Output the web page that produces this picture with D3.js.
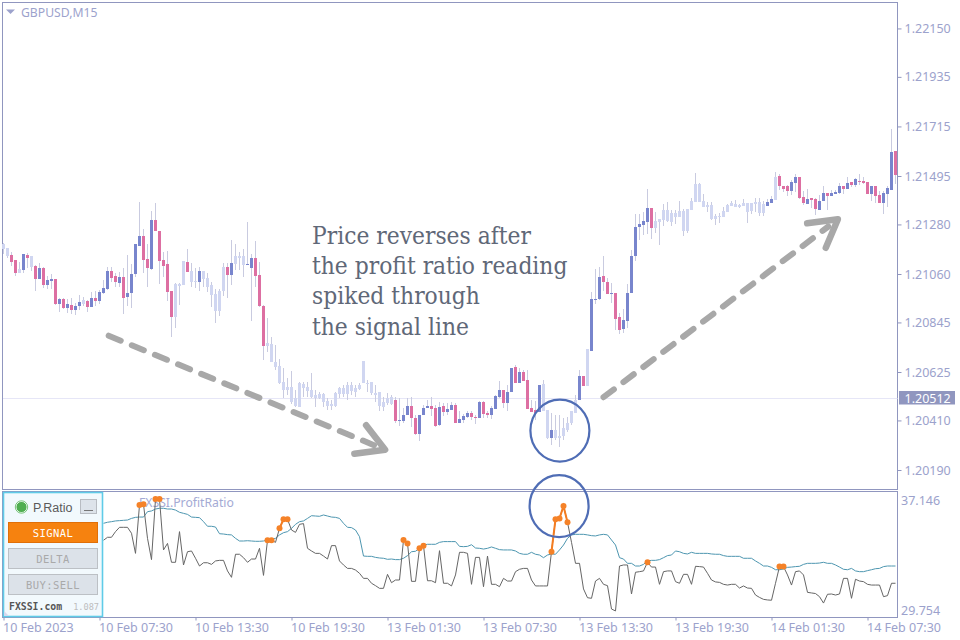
<!DOCTYPE html>
<html>
<head>
<meta charset="utf-8">
<script src="https://d3js.org/d3.v7.min.js"></script>
<style>
  html, body { margin: 0; background: #fff; }
  svg { display: block; }
  text { font-family: "Noto Sans", sans-serif; }
  .axis text { font-size: 12.5px; fill: #9ca2cc; font-family: "Noto Sans", sans-serif; }
  .axis line { stroke: #9096bf; }
  .axis .domain { display: none; }
</style>
</head>
<body>
<div class="chart"></div>
<script>
// GBPUSD M15 prices, in points above 1.20000, one entry per candle
const openPts = [
  1173,1140,1145,1122,1065,1078,1145,1091,1096,1038,
  1087,1011,1029,1038,927,949,909,923,900,918,
  927,940,914,954,940,976,994,1074,1051,1020,
  1047,958,976,1060,1185,1229,1127,1082,1300,1251,
  1122,1105,985,869,1007,1011,1114,1025,1025,1025,
  1038,1003,967,896,896,985,1091,1056,1105,1131,
  1100,1100,1087,1131,1056,918,741,670,647,576,
  545,545,492,474,471,554,542,515,511,511,
  493,474,474,474,526,526,527,541,538,548,
  575,572,530,523,474,471,486,483,501,407,
  407,434,474,421,350,434,465,474,465,390,
  474,447,456,478,398,412,425,443,425,421,
  492,443,434,461,514,545,487,536,647,576,
  625,589,465,456,447,452,332,332,332,332,
  341,367,398,443,501,607,563,718,945,949,
  1051,1025,971,976,869,816,852,976,1140,1269,
  1278,1291,1353,1264,1291,1300,1296,1291,1313,1313,
  1251,1251,1344,1380,1380,1358,1358,1304,1304,1313,
  1313,1335,1362,1358,1358,1362,1335,1340,1371,1331,
  1331,1362,1375,1389,1495,1451,1451,1429,1464,1491,
  1402,1371,1398,1393,1344,1384,1420,1406,1415,1420,
  1451,1438,1469,1455,1473,1473,1469,1415,1451,1411,
  1375,1415,1433,1606
];
const closePts = [
  1193,1176,1114,1065,1082,1149,1131,1140,1038,1087,
  1011,1034,1038,927,949,909,927,900,918,936,
  945,914,954,940,980,998,1074,1042,1025,1047,
  954,976,1060,1193,1229,1122,1087,1300,1251,1118,
  1096,980,869,1016,1016,1118,1069,1074,1029,1074,
  1074,1042,1011,971,985,1091,1056,1109,1140,1140,
  1140,1105,1131,1051,918,741,754,749,670,652,
  581,558,558,508,575,572,560,545,523,526,
  526,496,481,533,555,555,567,567,555,567,
  674,578,582,533,538,493,508,512,409,412,
  434,474,421,350,434,465,474,461,385,470,
  447,461,478,398,416,430,443,425,421,492,
  438,434,465,518,545,487,536,643,576,625,
  585,461,447,443,567,572,456,367,367,341,
  376,398,452,501,607,563,727,949,949,1047,
  1025,971,976,860,812,856,976,1140,1269,1282,
  1296,1353,1264,1296,1304,1344,1344,1331,1331,1340,
  1340,1349,1384,1460,1460,1384,1367,1367,1318,1318,
  1340,1367,1375,1371,1367,1375,1375,1375,1380,1380,
  1371,1380,1393,1491,1451,1438,1429,1469,1491,1398,
  1375,1393,1389,1349,1384,1420,1406,1420,1424,1451,
  1438,1464,1455,1482,1469,1464,1415,1451,1406,1375,
  1420,1442,1602,1500
];
const highPts = [
  1199,1176,1158,1122,1114,1149,1153,1140,1100,1109,
  1091,1051,1060,1038,954,954,949,954,931,967,
  958,945,980,985,989,1034,1091,1091,1065,1069,
  1087,1145,1105,1193,1380,1260,1193,1340,1375,1251,
  1158,1162,985,1020,1020,1118,1171,1109,1087,1091,
  1074,1065,1025,994,994,1109,1109,1211,1193,1158,
  1171,1291,1149,1207,1114,923,865,781,745,683,
  643,598,630,545,579,582,582,622,545,538,
  533,508,501,537,560,567,582,582,567,578,
  674,589,582,567,538,515,530,523,515,508,
  464,508,515,434,434,478,501,515,478,493,
  486,486,493,486,453,438,453,453,434,496,
  496,453,474,523,585,545,567,643,656,643,
  634,634,501,496,567,589,456,441,434,434,
  419,426,452,523,634,607,727,980,1082,1091,
  1140,1042,1020,976,887,905,1016,1167,1327,1327,
  1335,1438,1353,1335,1304,1371,1380,1344,1344,1384,
  1349,1349,1398,1509,1464,1415,1380,1380,1327,1331,
  1358,1371,1384,1389,1371,1393,1375,1375,1398,1398,
  1384,1393,1406,1513,1504,1451,1455,1478,1504,1491,
  1429,1438,1398,1398,1411,1451,1420,1433,1433,1464,
  1451,1491,1469,1486,1504,1491,1469,1451,1451,1429,
  1429,1451,1704,1606
];
const lowPts = [
  1149,1133,1096,1051,1065,1065,1087,1074,985,1038,
  998,994,994,923,892,905,887,883,878,900,
  918,892,914,918,927,971,989,1025,1003,1003,
  883,918,909,1047,1185,1065,1003,1078,1251,1016,
  1047,940,781,821,923,1011,1069,1003,998,985,
  1003,980,914,843,874,963,954,1011,1078,1078,
  1047,1100,852,1003,914,678,714,670,634,572,
  510,523,483,471,471,515,515,508,471,504,
  471,456,456,471,508,515,501,523,515,545,
  575,538,523,493,453,453,478,478,397,387,
  397,434,382,345,319,434,465,430,382,385,
  430,434,456,398,397,397,419,412,394,421,
  421,419,415,461,508,464,453,536,576,576,
  585,461,447,412,447,452,329,301,323,293,
  323,360,390,443,501,563,563,718,927,945,
  985,971,931,812,794,798,820,976,1118,1211,
  1233,1238,1216,1242,1189,1273,1291,1273,1282,1313,
  1229,1242,1344,1380,1380,1358,1335,1300,1278,1287,
  1313,1335,1362,1358,1353,1362,1287,1327,1335,1318,
  1318,1362,1375,1389,1433,1424,1406,1411,1424,1393,
  1367,1371,1353,1322,1344,1384,1344,1406,1415,1415,
  1415,1438,1447,1447,1455,1460,1415,1384,1375,1375,
  1327,1358,1433,1460
];
// candles that are washed out in the screenshot, as [first, last] runs
const fadedRuns = [[0,1],[4,4],[7,7],[20,20],[43,45],[47,48],[50,55],[58,60],[66,97],
  [135,136],[138,143],[146,146],[163,190],[193,193]];

const priceTicks = [190,410,625,845,1060,1280,1495,1715,1935,2150];
const lastPrice = 512;
const timeLabels = ["10 Feb 2023","10 Feb 07:30","10 Feb 13:30","10 Feb 19:30","13 Feb 01:30",
  "13 Feb 07:30","13 Feb 13:30","13 Feb 19:30","14 Feb 01:30","14 Feb 07:30"];

// P.Ratio indicator, both lines start at candle 25 (the widget hides the rest)
const ratioStart = 25;
const ratioValues = [
  34.44,34.64,34.64,35.02,35.31,35.31,35.31,34.91,33.56,36.81,36.86,34.57,33.14,37.21,37.21,
  33.79,34.23,32.96,32.96,35.02,32.78,33.67,33.72,33.23,32.71,32.93,32.93,32.82,33.05,33.09,
  33.09,32.38,31.95,33.50,33.50,33.27,32.96,33.18,33.18,33.90,32.08,34.44,34.44,34.30,35.24,
  35.85,35.85,35.13,34.97,35.51,35.56,33.90,33.72,33.56,33.56,
  33.38,33.18,34.08,34.08,33.05,32.78,32.55,32.55,32.44,32.22,31.88,31.88,31.55,31.39,31.21,
  31.21,32.15,31.59,31.77,31.77,34.46,34.23,31.68,31.68,33.90,34.08,31.72,31.72,31.59,33.74,
  31.55,31.55,31.37,32.11,33.63,33.63,33.56,31.48,33.29,33.29,31.32,33.38,31.48,31.48,31.32,
  31.88,31.70,31.70,32.33,32.49,32.55,32.55,31.77,31.37,31.37,31.37,31.37,33.67,35.85,35.91,
  36.74,35.65,34.30,32.89,32.89,31.17,30.58,30.54,31.70,31.88,31.48,31.39,29.82,29.69,32.71,
  32.78,32.78,30.83,32.29,32.33,
  32.38,32.96,32.64,32.64,31.48,32.33,32.38,32.38,31.66,31.55,32.15,32.15,31.48,32.69,32.67,
  32.64,32.22,31.77,31.64,31.61,31.48,31.43,31.48,31.48,31.23,31.37,31.23,31.21,30.76,30.60,
  30.47,30.43,30.41,31.55,32.67,32.67,32.11,31.43,32.33,32.38,32.11,30.94,30.90,30.86,30.65,
  30.22,30.81,30.83,30.76,30.83,31.88,31.88,30.54,31.82,31.70,31.66,31.48,31.43,31.43,31.43,
  30.65,30.72,31.55,31.55
];
const signalValues = [
  35.58,35.65,35.69,35.74,35.76,35.78,35.80,35.91,35.98,36.00,36.00,36.36,36.41,36.54,36.59,
  36.59,36.54,36.54,36.47,36.32,36.25,36.18,36.00,35.98,35.96,35.69,35.38,35.38,35.33,34.88,
  34.86,34.82,34.80,34.57,34.39,34.39,34.41,34.39,34.37,34.37,34.39,34.46,34.50,34.57,34.80,
  34.95,35.02,35.24,35.51,35.69,35.74,35.91,36.09,36.07,36.05,
  36.14,36.07,36.00,35.98,35.91,35.58,35.31,35.29,35.13,34.68,33.38,33.36,33.36,33.29,33.25,
  33.23,33.16,33.18,33.14,33.14,33.23,33.41,33.67,33.70,33.90,34.12,34.17,34.17,34.17,34.30,
  34.35,34.35,34.35,34.35,34.03,34.01,34.03,34.14,33.92,33.90,33.85,33.90,33.99,33.90,33.81,
  33.79,33.79,33.79,33.72,33.56,33.50,33.50,33.63,33.50,33.45,33.27,33.45,33.52,33.50,33.79,
  34.12,34.57,34.80,34.84,34.84,34.84,34.80,34.75,34.73,34.80,34.84,34.80,34.46,34.12,33.27,
  33.18,32.89,32.89,32.71,32.71,
  32.82,33.05,33.09,33.09,33.14,33.27,33.41,33.45,33.72,33.67,33.56,33.52,33.63,33.56,33.56,
  33.56,33.56,33.52,33.50,33.50,33.41,33.36,33.36,33.36,33.36,33.23,33.23,33.23,33.05,32.89,
  32.71,32.71,32.62,32.46,32.46,32.51,32.62,32.64,32.67,32.69,32.82,32.89,32.89,32.89,32.91,
  32.96,32.89,32.89,32.78,32.64,32.49,32.46,32.55,32.38,32.33,32.33,32.40,32.46,32.53,32.55,
  32.67,32.71,32.71,32.71
];
// candles where the ratio is above the signal line, as [first, last] runs
const crossRuns = [[34,35],[38,39],[66,67],[69,71],[100,101],[104,105],[137,141],[161,161],[194,195]];
const ratioTicks = [29.754, 37.146];

const noteLines = ["Price reverses after", "the profit ratio reading", "spiked through", "the signal line"];
// annotations in data terms: [candle, points]
const arrowDown = [[26.3, 786], [95.4, 280]];
const arrowUp = [[150, 513], [208.6, 1303]];
const circlePrice = [139.1, 365];
const circleRatio = [138.9, 36.74];

const width = 960, height = 640;
const frame = { left: 2.5, right: 897.5, top: 2.5, mid: 489.5, low: 491.5, bottom: 617.5 };

const svg = d3.select(".chart").append("svg").attr("width", width).attr("height", height);

const x = d3.scaleLinear().domain([0, 223]).range([3.5, 895.5]);
const y = d3.scaleLinear().domain([190, 1495]).range([470, 176]);
const yRatio = d3.scaleLinear().domain(ratioTicks).range([610, 500]);

const isFaded = (i) => fadedRuns.some((r) => i >= r[0] && i <= r[1]);
const candles = openPts.map((o, i) => ({
  i, o, c: closePts[i], h: highPts[i], l: lowPts[i], faded: isFaded(i)
}));

// panel frames
const frameColor = "#9096bf";
svg.append("rect").attr("x", frame.left).attr("y", frame.top)
  .attr("width", frame.right - frame.left).attr("height", frame.mid - frame.top)
  .attr("fill", "none").attr("stroke", frameColor);
svg.append("rect").attr("x", frame.left).attr("y", frame.low)
  .attr("width", frame.right - frame.left).attr("height", frame.bottom - frame.low)
  .attr("fill", "none").attr("stroke", frameColor);

// last price line
const lastY = Math.round(y(lastPrice)) + 1.5;
svg.append("line").attr("x1", 3).attr("x2", frame.right)
  .attr("y1", lastY).attr("y2", lastY)
  .attr("stroke", "#e6e6f7");

// candles
const candle = svg.append("g").selectAll("g").data(candles).enter().append("g");
candle.append("line")
  .attr("x1", (d) => x(d.i)).attr("x2", (d) => x(d.i))
  .attr("y1", (d) => y(d.h)).attr("y2", (d) => y(d.l))
  .attr("stroke", "#c9cbe0").attr("shape-rendering", "crispEdges");
candle.append("rect")
  .attr("x", (d) => x(d.i) - 1.5).attr("width", 3)
  .attr("y", (d) => y(Math.max(d.o, d.c)))
  .attr("height", (d) => Math.max(1, Math.abs(y(d.o) - y(d.c))))
  .attr("shape-rendering", "crispEdges")
  .attr("fill", (d) => d.faded ? "#d0d6f1" : d.c >= d.o ? "#7885cd" : "#dd6fa2");

// price axis
svg.append("g").attr("class", "axis")
  .attr("transform", `translate(${frame.right},0)`)
  .call(d3.axisRight(y).tickValues(priceTicks).tickSize(4).tickPadding(3)
    .tickFormat((d) => (1.2 + d / 1e5).toFixed(5)));

// last price tag
svg.append("rect").attr("x", 899).attr("y", lastY - 7.5).attr("width", 56).attr("height", 13.5)
  .attr("fill", "#9096bf");
svg.append("text").attr("x", 904.5).attr("y", lastY + 4).attr("font-size", 12.5)
  .attr("fill", "#fff").text((1.2 + lastPrice / 1e5).toFixed(5));

// time axis
svg.append("g").attr("class", "axis")
  .attr("transform", `translate(0,${frame.bottom})`)
  .call(d3.axisBottom(x).tickValues(timeLabels.map((d, i) => i * 24)).tickSize(3).tickPadding(3)
    .tickFormat((d) => timeLabels[d / 24]))
  .selectAll("text").attr("text-anchor", "start").attr("dx", -1);

// ratio axis, labels only
svg.append("g").attr("class", "axis")
  .attr("transform", `translate(${frame.right},0)`)
  .call(d3.axisRight(yRatio).tickValues(ratioTicks).tickSize(0).tickPadding(3.5)
    .tickFormat(d3.format(".3f")));

// chart labels
svg.append("path").attr("d", "M6,9.5h9l-4.5,4.5z").attr("fill", "#9ca2cc");
svg.append("text").attr("x", 21).attr("y", 16.5).attr("font-size", 12.2).attr("fill", "#9ca2cc")
  .text("GBPUSD,M15");
svg.append("text").attr("x", 139).attr("y", 507).attr("font-size", 12.2).attr("fill", "#a4aad4")
  .text("FXSSI.ProfitRatio");

// indicator lines
const lineX = (d, i) => x(ratioStart + i);
const line = d3.line().x(lineX).y((d) => yRatio(d));
svg.append("path").attr("d", line(signalValues)).attr("fill", "none")
  .attr("stroke", "#4d96b0").attr("stroke-width", 1);
svg.append("path").attr("d", line(ratioValues)).attr("fill", "none")
  .attr("stroke", "#666").attr("stroke-width", 1);

// crossings above the signal line
crossRuns.forEach(([first, last]) => {
  const run = d3.range(first, last + 1).map((i) => [x(i), yRatio(ratioValues[i - ratioStart])]);
  svg.append("path").attr("d", d3.line()(run)).attr("fill", "none")
    .attr("stroke", "#f47c20").attr("stroke-width", 2);
  svg.append("g").selectAll("circle").data(run).enter().append("circle")
    .attr("cx", (d) => d[0]).attr("cy", (d) => d[1]).attr("r", 3).attr("fill", "#f58228");
});

// widget box over the left of the indicator panel
const widget = svg.append("g");
widget.append("rect").attr("x", 3.5).attr("y", 492.5).attr("width", 99).attr("height", 124)
  .attr("fill", "#f2f9fd").attr("stroke", "#5fcbe8").attr("stroke-width", 1.6);
widget.append("path").attr("d", "M4,611l5,5h-5z").attr("fill", "#d5d9ee");
widget.append("circle").attr("cx", 21.5).attr("cy", 507).attr("r", 5.6)
  .attr("fill", "#4fae50").attr("stroke", "#fff").attr("stroke-width", 1);
widget.append("circle").attr("cx", 21.5).attr("cy", 507).attr("r", 6.2)
  .attr("fill", "none").attr("stroke", "#58b85a").attr("stroke-width", 0.8);
widget.append("text").attr("x", 33).attr("y", 512).attr("font-size", 12.5)
  .style("font-family", "Liberation Sans")
  .attr("fill", "#5a5a5a").text("P.Ratio");
widget.append("rect").attr("x", 80.5).attr("y", 499.5).attr("width", 16).attr("height", 14)
  .attr("fill", "#dde3ea").attr("stroke", "#b8bcc2");
widget.append("line").attr("x1", 84).attr("x2", 93).attr("y1", 510.5).attr("y2", 510.5)
  .attr("stroke", "#777");

const buttons = [
  { label: "SIGNAL", y: 522.5, fill: "#f6820f", stroke: "#e06f08", text: "#fff" },
  { label: "DELTA", y: 548.5, fill: "#dce2e9", stroke: "#bcc0c5", text: "#a9a9a9" },
  { label: "BUY:SELL", y: 574.5, fill: "#dce2e9", stroke: "#bcc0c5", text: "#a9a9a9" }
];
buttons.forEach((b) => {
  widget.append("rect").attr("x", 8.5).attr("y", b.y).attr("width", 89).attr("height", 20)
    .attr("fill", b.fill).attr("stroke", b.stroke);
  widget.append("text").attr("x", 53).attr("y", b.y + 14).attr("text-anchor", "middle")
    .style("font-family", "DejaVu Sans Mono").attr("font-size", 10.5)
    .attr("letter-spacing", 0.4).attr("fill", b.text).text(b.label);
});
widget.append("text").attr("x", 9).attr("y", 610).style("font-family", "DejaVu Sans Mono")
  .attr("font-size", 9.8).attr("font-weight", "bold").attr("fill", "#555").text("FXSSI.com");
widget.append("text").attr("x", 99).attr("y", 610).attr("text-anchor", "end")
  .style("font-family", "DejaVu Sans Mono").attr("font-size", 8.6).attr("fill", "#bdbdbd").text("1.087");

// note text
svg.append("g").selectAll("text").data(noteLines).enter().append("text")
  .attr("x", 312).attr("y", (d, i) => 244 + i * 30.2)
  .style("font-family", "DejaVu Serif Condensed, DejaVu Serif")
  .attr("font-size", 24.3).attr("fill", "#5f6878").text((d) => d);

// dashed arrows, head arms are measured back from the tip
function drawArrow([from, to]) {
  const p0 = [x(from[0]), y(from[1])], p1 = [x(to[0]), y(to[1])];
  const angle = Math.atan2(p1[1] - p0[1], p1[0] - p0[0]);
  const shaft = Math.hypot(p1[0] - p0[0], p1[1] - p0[1]) - 12;
  const end = [p0[0] + shaft * Math.cos(angle), p0[1] + shaft * Math.sin(angle)];
  svg.append("path").attr("d", d3.line()([p0, end])).attr("fill", "none")
    .attr("stroke", "#a8a8a8").attr("stroke-width", 6).attr("stroke-linecap", "round")
    .attr("stroke-dasharray", "13 12");
  const arm = (a) => [p1[0] - 31 * Math.cos(angle + a), p1[1] - 31 * Math.sin(angle + a)];
  svg.append("path").attr("d", d3.line()([arm(0.52), p1, arm(-0.52)])).attr("fill", "none")
    .attr("stroke", "#a8a8a8").attr("stroke-width", 6.5)
    .attr("stroke-linecap", "round").attr("stroke-linejoin", "round");
}
drawArrow(arrowDown);
drawArrow(arrowUp);

// circles around the reversal and the spike
svg.append("ellipse").attr("cx", x(circlePrice[0])).attr("cy", y(circlePrice[1]))
  .attr("rx", 29.5).attr("ry", 31).attr("fill", "none")
  .attr("stroke", "#4f6db5").attr("stroke-width", 2.2);
svg.append("ellipse").attr("cx", x(circleRatio[0])).attr("cy", yRatio(circleRatio[1]))
  .attr("rx", 29.5).attr("ry", 31).attr("fill", "none")
  .attr("stroke", "#4f6db5").attr("stroke-width", 2.2);
</script>
</body>
</html>
